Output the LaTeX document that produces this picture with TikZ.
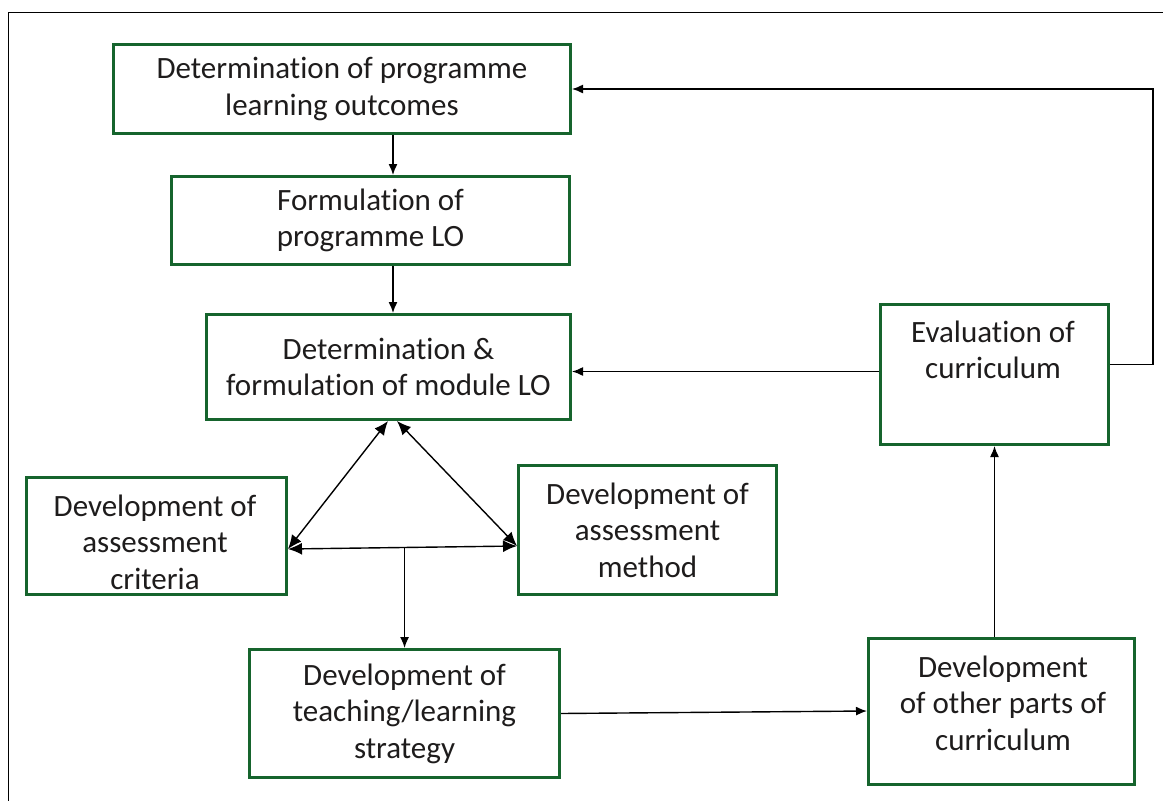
\documentclass[tikz,border=0pt]{standalone}
\usepackage{fontspec}
\setmainfont{Carlito}[Ligatures=NoCommon]
\usetikzlibrary{arrows.meta,calc}
\definecolor{boxgreen}{RGB}{22,100,45}
\definecolor{txt}{RGB}{30,28,28}
\begin{document}
\begin{tikzpicture}[x=1pt,y=-1pt,
  box/.style={draw=boxgreen, line width=3pt, inner sep=0pt, anchor=north west,
    align=center, text=txt, font=\fontsize{31}{36.5}\selectfont},
  lbl/.style={align=center, text=txt, inner sep=0pt, font=\fontsize{31}{36.5}\selectfont},
  arr/.style={draw=black, line width=1.4pt, -{Latex[length=11pt,width=9pt]}},
  darr/.style={draw=black, line width=1.4pt, {Latex[length=14pt,width=12pt]}-{Latex[length=14pt,width=12pt]}},
  frame/.style={draw=black, line width=1.6pt}]
\useasboundingbox (0,0) rectangle (1163,801);
\draw[frame] (8.5,801) -- (8.5,12.5) -- (1163,12.5);

\node[box, minimum width=457pt, minimum height=89pt] (b1) at (112,43)
  {Determination of programme\\learning outcomes};
\node[box, minimum width=398pt, minimum height=88pt] (b2) at (170,175)
  {Formulation of\\programme LO};
\node[box, minimum width=364pt, minimum height=105pt] (b3) at (205,313)
  {Determination \&\\formulation of module LO};
\node[box, minimum width=260pt, minimum height=117pt] (b4) at (25,476) {};
\node[lbl] (t4) at (155,542) {Development of\\assessment\\criteria};
\node[box, minimum width=258pt, minimum height=129pt] (b5) at (517,464)
  {Development of\\assessment\\method};
\node[box, minimum width=310pt, minimum height=128pt] (b6) at (248,648)
  {Development of\\teaching/learning\\strategy};
\node[box, minimum width=266pt, minimum height=146pt] (b7) at (867,637) {};
\node[lbl] (t7) at (1003,703) {Development\\of other parts of\\curriculum};
\node[box, minimum width=228pt, minimum height=140pt] (b8) at (879,303) {};
\node[lbl] (t8) at (993,350) {Evaluation of\\curriculum};

\coordinate (cx) at (393,0);
\coordinate (fb) at (1153,0);

\draw[arr] (b1.south -| cx) -- (b2.north -| cx);
\draw[arr] (b2.south -| cx) -- (b3.north -| cx);
\draw[arr] ([yshift=3pt]b8.west) -- ([yshift=3pt]b8.west -| b3.east);
\draw[arr] ([yshift=10pt]b8.east) -- ([yshift=10pt]b8.east -| fb) -- (b1.east -| fb) -- (b1.east);

\coordinate (apexL) at ($(b3.south -| cx)+(-5,0)$);
\coordinate (apexR) at ($(b3.south -| cx)+(4,0)$);
\coordinate (p4) at ($(b4.east)+(0,13)$);
\coordinate (p5) at ($(b5.west)+(0,16)$);
\draw[darr] (apexL) -- (p4);
\draw[darr] (apexR) -- (p5);
\draw[darr] (p4) -- (p5);
\coordinate (mid) at ($(p4)!0.509!(p5)$);
\draw[arr] (mid) -- (mid |- b6.north);
\draw[arr] (b6.east) -- ($(b7.west)+(0,-0.5)$);
\draw[arr] (b7.north -| b8.south) -- (b8.south);
\end{tikzpicture}
\end{document}
